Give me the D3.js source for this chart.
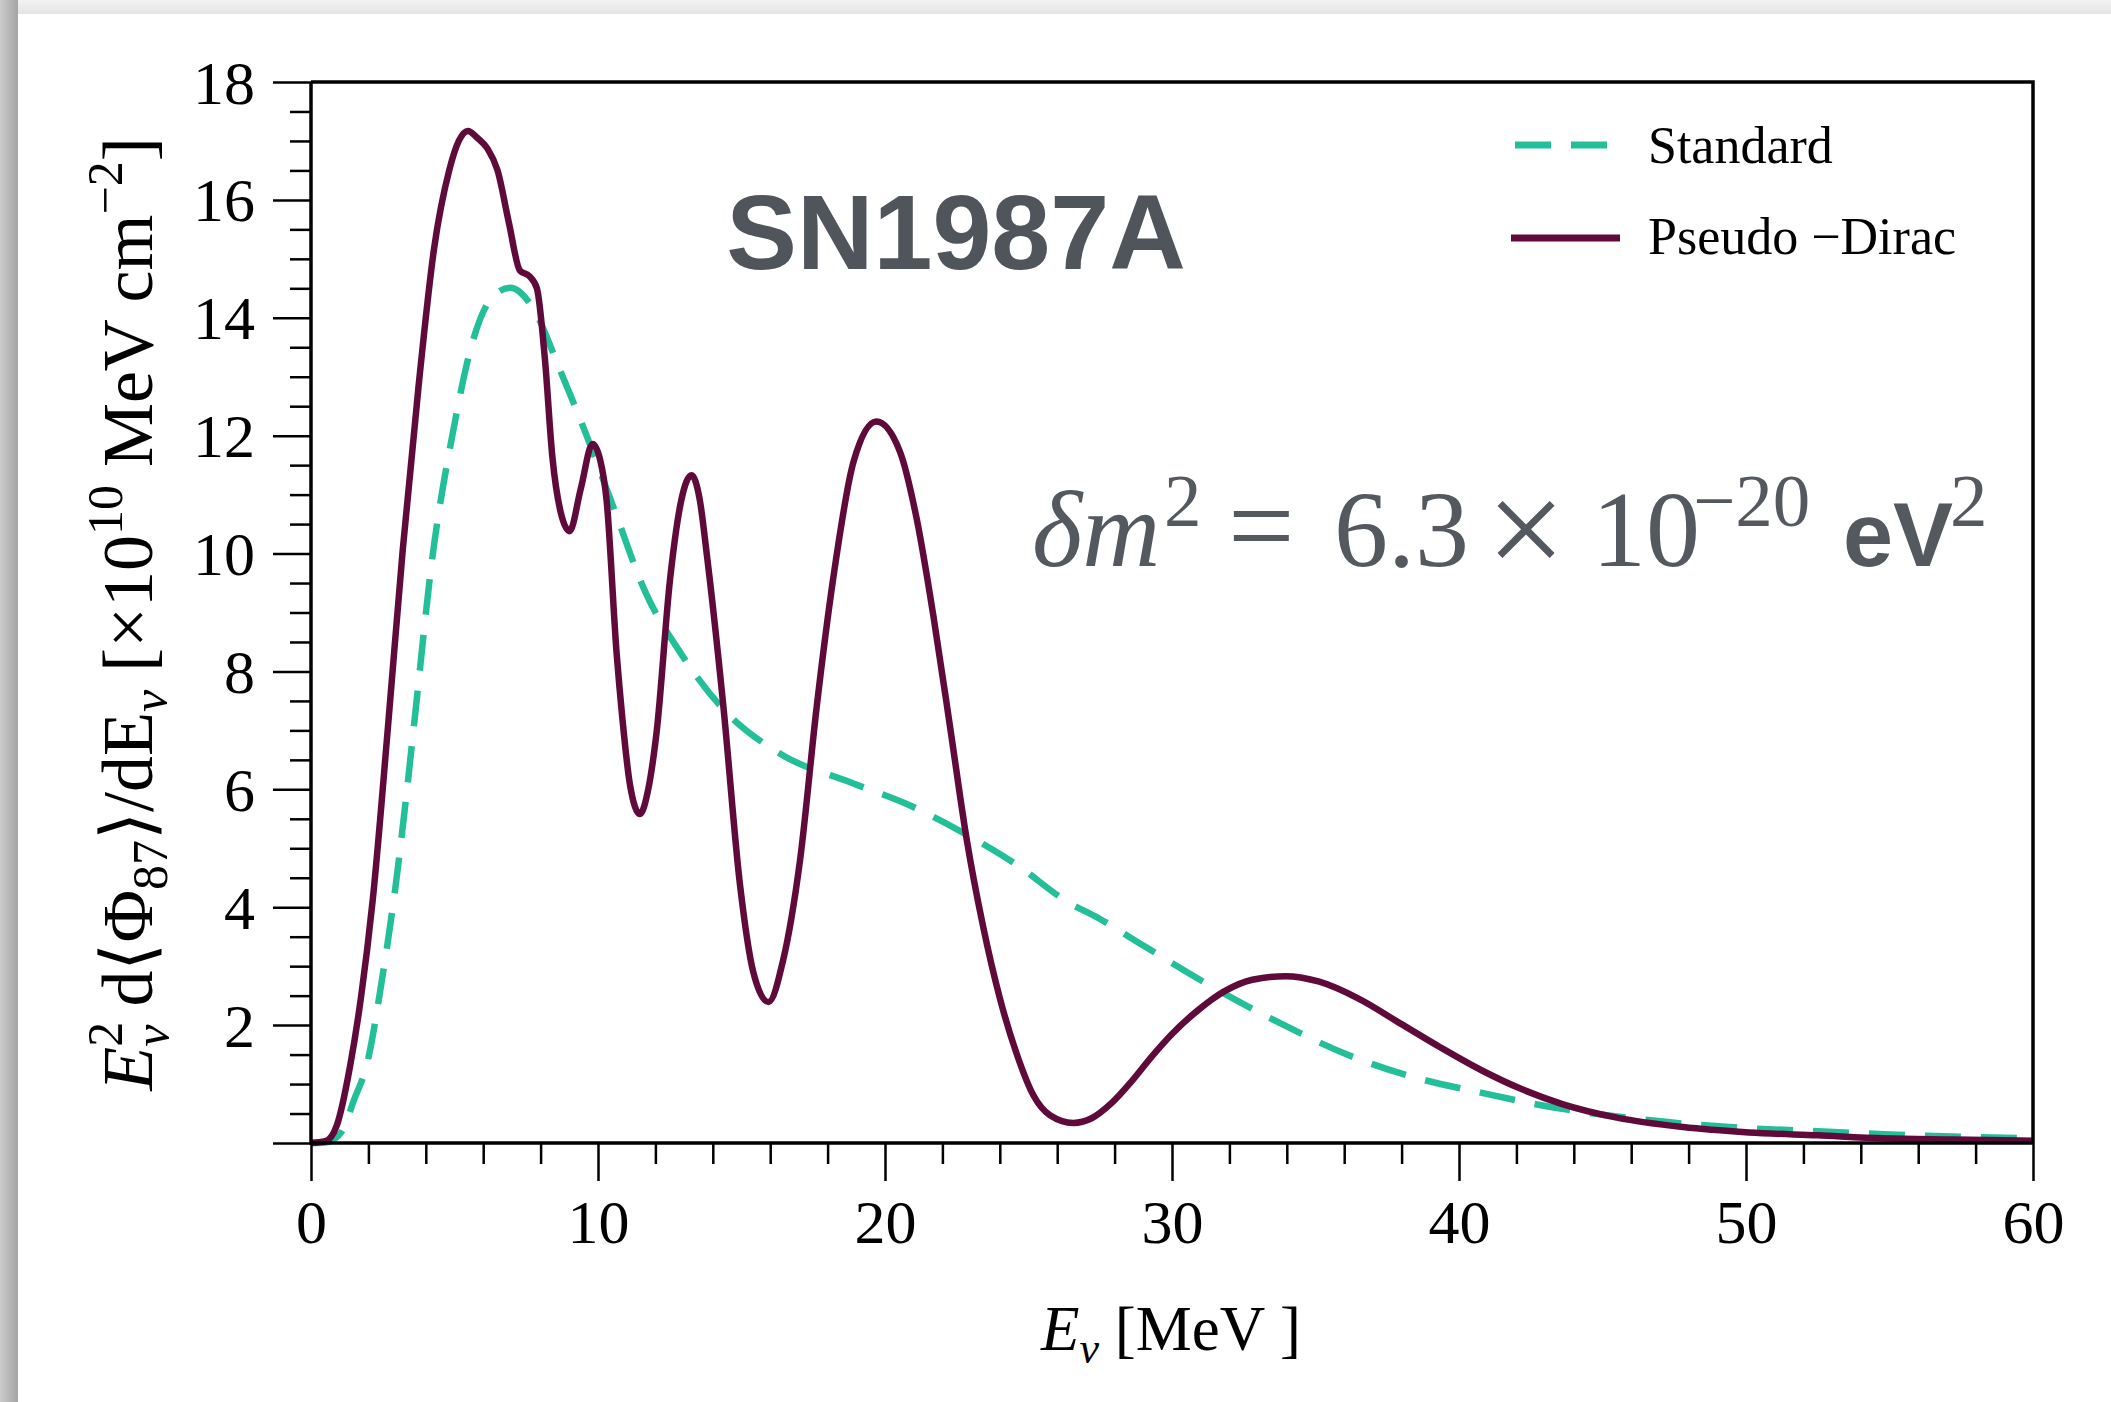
<!DOCTYPE html>
<html>
<head>
<meta charset="utf-8">
<script src="https://cdn.jsdelivr.net/npm/d3@7"></script>
<style>
  html, body { margin: 0; padding: 0; background: #eeeeee; }
  svg { display: block; }
</style>
</head>
<body>
<script>
// ---------------- data ----------------
const xTicks = [0, 10, 20, 30, 40, 50, 60];
const yTicks = [2, 4, 6, 8, 10, 12, 14, 16, 18];

const standardE = [0, 0.5, 0.8, 1.17, 1.46, 1.98, 2.45, 2.95, 3.3, 3.62, 4.22, 4.95, 5.6, 6.27, 6.95, 7.75, 8.68, 9.62, 10.55, 11.62, 12.95, 14.29, 16.29, 18.9, 20.76, 22.85, 24.59, 26.33, 27.49, 29.0, 31.4, 33.7, 36.1, 38.4, 40.8, 43.1, 45.5, 47.8, 50.1, 52.5, 54.8, 57.2, 60];
const standardFlux = [0, 0.01, 0.06, 0.28, 0.68, 1.4, 2.7, 4.37, 5.8, 7.23, 9.9, 12.07, 13.54, 14.32, 14.51, 14.15, 13.11, 11.98, 10.77, 9.38, 8.26, 7.40, 6.62, 6.1, 5.75, 5.23, 4.72, 4.1, 3.8, 3.35, 2.65, 2.05, 1.5, 1.12, 0.85, 0.62, 0.45, 0.33, 0.25, 0.2, 0.15, 0.11, 0.08];

const pseudoE = [0, 0.5, 0.9, 1.36, 1.75, 2.15, 2.68, 3.2, 3.75, 4.29, 4.81, 5.15, 5.47, 5.8, 6.15, 6.5, 6.9, 7.28, 7.6, 7.87, 8.15, 8.41, 8.7, 9.01, 9.4, 9.81, 10.07, 10.3, 10.65, 10.85, 11.11, 11.46, 11.75, 12.04, 12.51, 12.9, 13.26, 13.55, 13.79, 14.37, 14.95, 15.41, 15.94, 16.45, 17.04, 17.62, 18.19, 18.9, 19.7, 20.52, 21.1, 21.68, 22.27, 22.85, 23.42, 24.0, 24.59, 25.17, 25.75, 26.56, 27.2, 27.9, 28.6, 29.3, 30.0, 30.9, 31.85, 32.8, 33.96, 35.1, 36.5, 37.95, 39.36, 40.8, 42.2, 43.6, 45.5, 47.8, 50.1, 52.5, 54.8, 57.2, 60];
const pseudoFlux = [0, 0.03, 0.3, 1.3, 2.5, 4.12, 7.05, 10.08, 12.85, 15.18, 16.49, 17.0, 17.17, 17.05, 16.87, 16.5, 15.6, 14.8, 14.71, 14.5, 13.3, 11.64, 10.7, 10.38, 11.1, 11.86, 11.6, 10.9, 8.3, 7.2, 6.09, 5.58, 6.0, 6.96, 9.56, 10.9, 11.33, 10.9, 9.99, 7.4, 4.37, 2.9, 2.39, 3.1, 4.8, 7.4, 9.56, 11.55, 12.24, 11.73, 10.6, 8.96, 7.05, 5.14, 3.67, 2.46, 1.51, 0.81, 0.47, 0.34, 0.42, 0.68, 1.05, 1.47, 1.85, 2.25, 2.58, 2.77, 2.83, 2.74, 2.45, 2.03, 1.62, 1.23, 0.91, 0.66, 0.43, 0.27, 0.18, 0.13, 0.08, 0.06, 0.04];

const seriesNames = ["Standard", "Pseudo \u2212Dirac"];
const seriesColors = ["#23bf99", "#600a3c"];

// ---------------- layout ----------------
const W = 2111, H = 1402;
const plot = { left: 311, right: 2033, top: 82, bottom: 1143 };
const serif = "'Liberation Serif', 'Times New Roman', serif";
const sans = "'Liberation Sans', Arial, sans-serif";

const svg = d3.select("body").append("svg").attr("width", W).attr("height", H);
const defs = svg.append("defs");
const lg = defs.append("linearGradient").attr("id", "leftShade").attr("x1", 0).attr("x2", 1).attr("y1", 0).attr("y2", 0);
lg.append("stop").attr("offset", "0%").attr("stop-color", "#cbcbcb");
lg.append("stop").attr("offset", "100%").attr("stop-color", "#a4a4a4");
const tg = defs.append("linearGradient").attr("id", "topShade").attr("x1", 0).attr("x2", 0).attr("y1", 0).attr("y2", 1);
tg.append("stop").attr("offset", "0%").attr("stop-color", "#f2f2f2");
tg.append("stop").attr("offset", "100%").attr("stop-color", "#e4e4e4");

// page background + card
svg.append("rect").attr("x", 0).attr("y", 0).attr("width", W).attr("height", H).attr("fill", "#efefef");
svg.append("rect").attr("x", 0).attr("y", 0).attr("width", W).attr("height", 14).attr("fill", "url(#topShade)");
svg.append("rect").attr("x", 0).attr("y", 0).attr("width", 18).attr("height", H).attr("fill", "url(#leftShade)");
svg.append("rect").attr("x", 18).attr("y", 14).attr("width", W - 18).attr("height", H - 14).attr("fill", "#ffffff");

const x = d3.scaleLinear().domain([0, 60]).range([plot.left, plot.right]);
const y = d3.scaleLinear().domain([0, 18]).range([plot.bottom, plot.top]);

// ---------------- curves ----------------
const line = d3.line().x(d => x(d[0])).y(d => y(d[1])).curve(d3.curveMonotoneX);
const stdData = standardE.map((e, i) => [e, standardFlux[i]]);
const psdData = pseudoE.map((e, i) => [e, pseudoFlux[i]]);

const clip = defs.append("clipPath").attr("id", "plotClip");
clip.append("rect").attr("x", plot.left - 6).attr("y", plot.top).attr("width", plot.right - plot.left + 12).attr("height", plot.bottom - plot.top + 6);

const curves = svg.append("g").attr("clip-path", "url(#plotClip)");
curves.append("path").datum(stdData).attr("d", line)
  .attr("fill", "none").attr("stroke", seriesColors[0]).attr("stroke-width", 6.5)
  .attr("stroke-dasharray", "36 20");
curves.append("path").datum(psdData).attr("d", line)
  .attr("fill", "none").attr("stroke", seriesColors[1]).attr("stroke-width", 6.5)
  .attr("stroke-linejoin", "round");

// ---------------- axes ----------------
const axisColor = "#000";
svg.append("path")
  .attr("d", `M${plot.left},${plot.top}H${plot.right}V${plot.bottom}`)
  .attr("fill", "none").attr("stroke", axisColor).attr("stroke-width", 3.5);

// x axis
const xMinor = d3.range(0, 61, 2).filter(v => v % 10 !== 0);
const gx = svg.append("g").attr("transform", `translate(0,${plot.bottom})`);
gx.call(d3.axisBottom(x).tickValues(xMinor).tickSize(21).tickFormat(""));
gx.selectAll(".tick line").attr("stroke", axisColor).attr("stroke-width", 2.5);
const gx2 = svg.append("g").attr("transform", `translate(0,${plot.bottom})`);
gx2.call(d3.axisBottom(x).tickValues(xTicks).tickSize(38).tickPadding(18).tickFormat(d3.format("d")));
gx2.selectAll(".tick line").attr("stroke", axisColor).attr("stroke-width", 2.5);
gx2.selectAll(".tick text").attr("font-family", serif).attr("font-size", 62).attr("fill", "#000");
[gx, gx2].forEach(g => g.select(".domain").remove());

// y axis
const yMinor = d3.range(0, 18.01, 0.5).filter(v => v % 2 !== 0);
const gy = svg.append("g").attr("transform", `translate(${plot.left},0)`);
gy.call(d3.axisLeft(y).tickValues(yMinor).tickSize(21).tickFormat(""));
gy.selectAll(".tick line").attr("stroke", axisColor).attr("stroke-width", 2.5);
const gy2 = svg.append("g").attr("transform", `translate(${plot.left},0)`);
gy2.call(d3.axisLeft(y).tickValues([0].concat(yTicks)).tickSize(38).tickPadding(18)
  .tickFormat(v => v === 0 ? "" : d3.format("d")(v)));
gy2.selectAll(".tick line").attr("stroke", axisColor).attr("stroke-width", 2.5);
gy2.selectAll(".tick text").attr("font-family", serif).attr("font-size", 62).attr("fill", "#000").attr("dy", "0.34em");
[gy, gy2].forEach(g => g.select(".domain").remove());

svg.append("path")
  .attr("d", `M${plot.left},${plot.top}V${plot.bottom}H${plot.right}`)
  .attr("fill", "none").attr("stroke", axisColor).attr("stroke-width", 3.5);

// ---------------- axis titles ----------------
const xt = svg.append("text").attr("x", 1171).attr("y", 1350).attr("text-anchor", "middle")
  .attr("font-family", serif).attr("font-size", 63).attr("fill", "#000");
xt.append("tspan").attr("font-style", "italic").text("E");
xt.append("tspan").attr("font-style", "italic").attr("font-size", 44).attr("dy", 13).text("\u03bd");
xt.append("tspan").attr("dy", -13).text(" [MeV ]");

const yt = svg.append("text").attr("transform", "translate(152,614) rotate(-90)").attr("text-anchor", "middle")
  .attr("font-family", serif).attr("font-size", 72).attr("fill", "#000");
yt.append("tspan").attr("font-style", "italic").text("E");
yt.append("tspan").attr("font-size", 50).attr("dy", -30).text("2");
yt.append("tspan").attr("font-style", "italic").attr("font-size", 50).attr("dx", -25).attr("dy", 47).text("\u03bd");
yt.append("tspan").attr("dy", -17).text(" d\u27e8\u03a6");
yt.append("tspan").attr("font-size", 50).attr("dy", 15).text("87");
yt.append("tspan").attr("dy", -15).text("\u27e9/dE");
yt.append("tspan").attr("font-style", "italic").attr("font-size", 50).attr("dy", 15).text("\u03bd");
yt.append("tspan").attr("dy", -15).text(" [\u00d710");
yt.append("tspan").attr("font-size", 50).attr("dy", -30).text("10");
yt.append("tspan").attr("dy", 30).text(" MeV cm");
yt.append("tspan").attr("font-size", 50).attr("dy", -30).text("\u22122");
yt.append("tspan").attr("dy", 30).text("]");

// ---------------- annotations ----------------
svg.append("text").attr("x", 956).attr("y", 269).attr("text-anchor", "middle")
  .attr("font-family", sans).attr("font-weight", "bold").attr("font-size", 106)
  .attr("fill", "#50555c").text("SN1987A");

const anColor = "#54585f";
const an = svg.append("text").attr("x", 1032).attr("y", 566)
  .attr("font-family", serif).attr("font-size", 108).attr("fill", anColor);
an.append("tspan").attr("font-style", "italic").text("\u03b4m");
an.append("tspan").attr("x", 1164).attr("font-size", 75).attr("dy", -40).text("2");
an.append("tspan").attr("x", 1228).attr("dy", 40).attr("font-size", 118).text("=");
an.append("tspan").attr("x", 1334).text("6.3");
an.append("tspan").attr("x", 1592).text("10");
an.append("tspan").attr("x", 1693).attr("font-size", 75).attr("dy", -40).text("\u221220");
an.append("tspan").attr("x", 1843).attr("dy", 40).attr("font-family", sans).attr("font-weight", "bold").attr("font-size", 90).text("eV");
an.append("tspan").attr("x", 1950).attr("font-size", 75).attr("dy", -40).text("2");
// larger multiplication sign, centred between "6.3" and "10"
svg.append("text").attr("x", 1526).attr("y", 576).attr("text-anchor", "middle")
  .attr("font-family", serif).attr("font-size", 140).attr("fill", anColor).text("\u00d7");

// ---------------- legend ----------------
const legend = svg.append("g");
const legendRows = [
  { name: seriesNames[0], color: seriesColors[0], dash: "36 20", x1: 1515, x2: 1609, ly: 145, ty: 163 },
  { name: seriesNames[1], color: seriesColors[1], dash: null, x1: 1511, x2: 1620, ly: 238, ty: 254 }
];
legendRows.forEach(r => {
  legend.append("line").attr("x1", r.x1).attr("x2", r.x2).attr("y1", r.ly).attr("y2", r.ly)
    .attr("stroke", r.color).attr("stroke-width", 7).attr("stroke-dasharray", r.dash);
  legend.append("text").attr("x", 1648).attr("y", r.ty).attr("font-family", serif)
    .attr("font-size", 52).attr("fill", "#000").text(r.name);
});
</script>
</body>
</html>
